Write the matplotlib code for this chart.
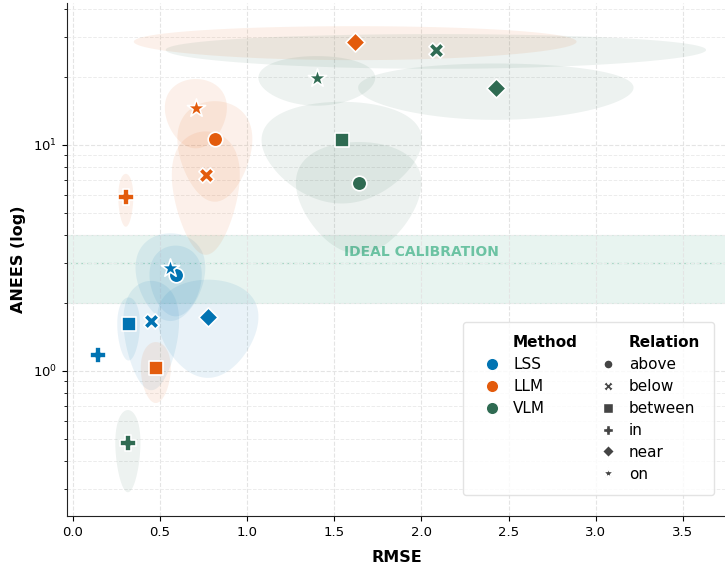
import matplotlib.pyplot as plt
import numpy as np
from matplotlib.lines import Line2D

# values
relations = ['above', 'below', 'between', 'in', 'near', 'on']
methods = ['LSS', 'LLM', 'VLM']

rmse = {
    'LSS': [0.59, 0.45, 0.32, 0.143, 0.775, 0.56],
    'LLM': [0.815, 0.763, 0.476, 0.304, 1.62, 0.706],
    'VLM': [1.64, 2.083, 1.543, 0.316, 2.427, 1.40],
}
anees = {
    'LSS': [2.66, 1.66, 1.61, 1.18, 1.73, 2.86],
    'LLM': [10.6, 7.36, 1.03, 5.89, 28.6, 14.6],
    'VLM': [6.79, 26.3, 10.5, 0.48, 17.9, 19.8],
}
# spread (half-width / half-height of the shaded regions, linear units)
rmse_sd = {
    'LSS': [0.15, 0.16, 0.065, 0.0, 0.29, 0.2],
    'LLM': [0.215, 0.195, 0.086, 0.043, 1.27, 0.178],
    'VLM': [0.36, 1.55, 0.46, 0.072, 0.79, 0.335],
}
anees_sd = {
    'LSS': [0.92, 0.84, 0.5, 0.0, 0.8, 1.2],
    'LLM': [5.0, 4.1, 0.31, 1.55, 4.9, 4.95],
    'VLM': [3.5, 4.6, 5.0, 0.19, 5.0, 4.9],
}

colors = {'LSS': '#0173b2', 'LLM': '#e35b0c', 'VLM': '#2f6b52'}
markers = {'above': 'o', 'below': 'X', 'between': 's', 'in': 'P', 'near': 'D', 'on': '*'}
sizes = {'above': 110, 'below': 120, 'between': 110, 'in': 130, 'near': 95, 'on': 190}

fig = plt.figure(figsize=(7.25, 5.65), dpi=100)
ax = fig.add_axes([0.092, 0.087, 0.91, 0.908])
ax.set_yscale('log')

# ideal calibration band
ax.axhspan(2, 4, facecolor='#e8f4f0', edgecolor='#d3e8e0', linewidth=0.8, zorder=0)
ax.axhline(3, color='#a3d5c3', linestyle='--', linewidth=0.9, zorder=0.5)
ax.text(2.0, 3.12, 'IDEAL CALIBRATION', color='#6cc3a3', fontsize=10,
        fontweight='bold', ha='center', va='bottom', zorder=1)

# shaded spread regions
t = np.linspace(0, 2 * np.pi, 200)
for m in methods:
    for i in range(len(relations)):
        a, b = rmse_sd[m][i], anees_sd[m][i]
        if a == 0 or b == 0:
            continue
        ex = rmse[m][i] + a * np.cos(t)
        ey = anees[m][i] + b * np.sin(t)
        ax.fill(ex, ey, color=colors[m], alpha=0.085, linewidth=0, zorder=1)

# points
for m in methods:
    for i, r in enumerate(relations):
        ax.scatter(rmse[m][i], anees[m][i], s=sizes[r], marker=markers[r],
                   color=colors[m], edgecolor='white', linewidth=1.2, zorder=3)

ax.set_xlim(-0.035, 3.75)
ax.set_ylim(0.228, 42.5)
ax.set_xticks(np.arange(0, 3.51, 0.5))
ax.grid(True, which='major', linestyle='--', color='#e4e4e4', linewidth=0.8)
ax.grid(True, which='minor', axis='y', linestyle='--', color='#ececec', linewidth=0.7)
ax.set_axisbelow(True)
for s in ['top', 'right']:
    ax.spines[s].set_visible(False)
ax.spines['left'].set_color('#222222')
ax.spines['bottom'].set_color('#222222')
ax.tick_params(labelsize=9.5)

ax.set_xlabel('RMSE', fontsize=11.5, fontweight='bold', labelpad=8)
ax.set_ylabel('ANEES (log)', fontsize=11.5, fontweight='bold', labelpad=5)

# legend: two columns, Method and Relation
blank = Line2D([], [], linestyle='none', marker='none')
handles = [blank]
labels = ['Method']
for m in methods:
    handles.append(Line2D([], [], linestyle='none', marker='o', markersize=9,
                          markerfacecolor=colors[m], markeredgecolor='white'))
    labels.append(m)
for _ in range(3):
    handles.append(blank)
    labels.append('')
handles.append(blank)
labels.append('Relation')
for r in relations:
    ms = 6.5 if r != 'on' else 8
    handles.append(Line2D([], [], linestyle='none', marker=markers[r], markersize=ms,
                          markerfacecolor='#444444', markeredgecolor='white'))
    labels.append(r)

leg = ax.legend(handles, labels, ncol=2, loc='lower right', bbox_to_anchor=(0.993, 0.025),
                fontsize=11, frameon=True, fancybox=True, edgecolor='#dddddd',
                borderpad=0.9, handletextpad=0.35, columnspacing=1.0, labelspacing=0.45)
for txt in leg.get_texts():
    if txt.get_text() in ('Method', 'Relation'):
        txt.set_fontweight('bold')

plt.savefig('out.png', dpi=100)
